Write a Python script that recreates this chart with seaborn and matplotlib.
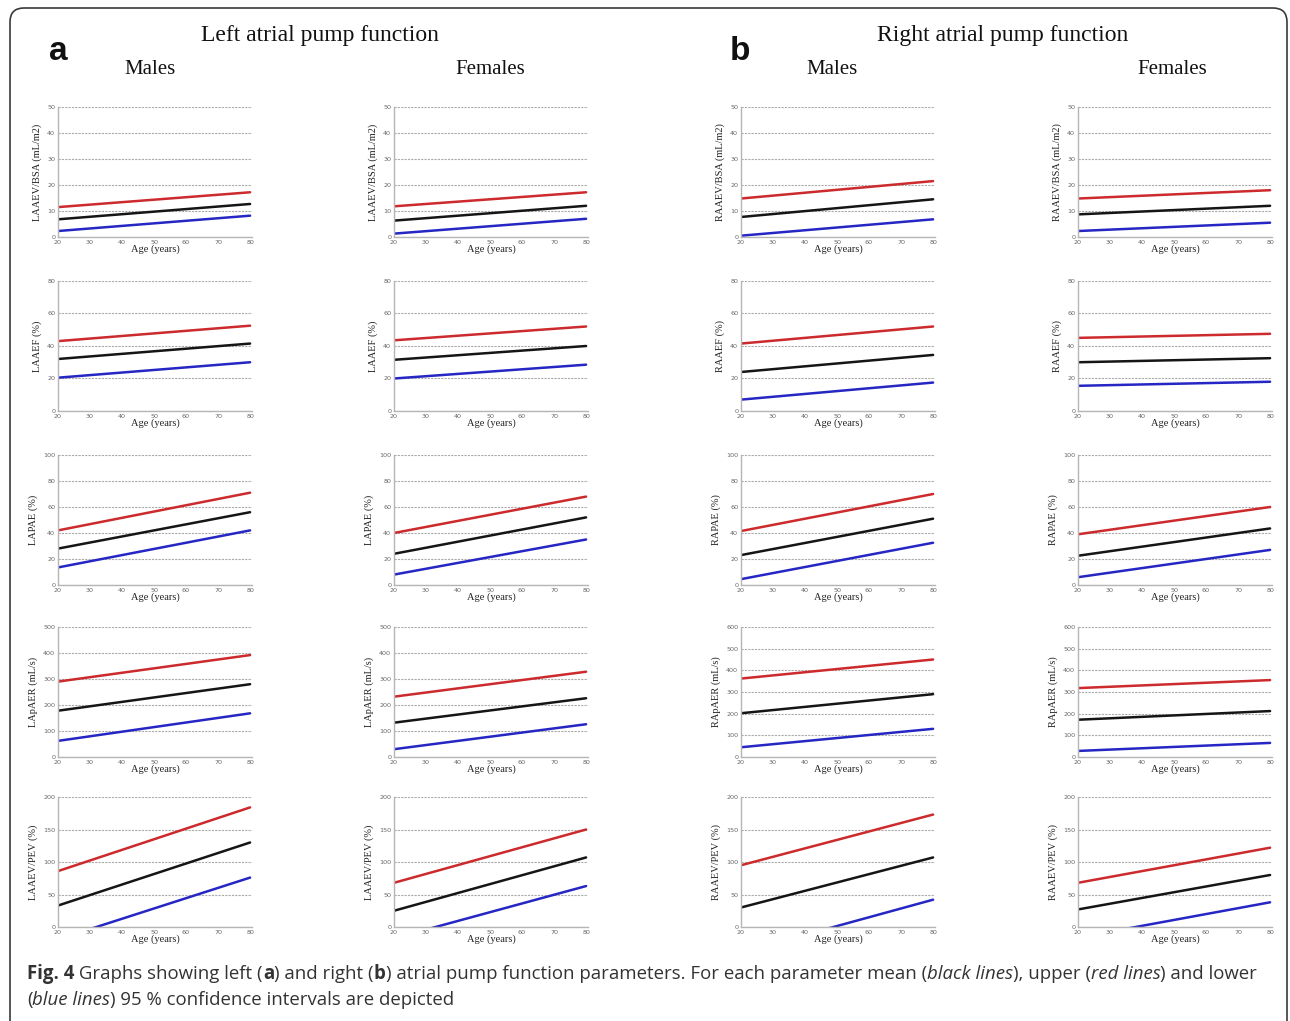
import matplotlib
matplotlib.use("Agg")
import matplotlib.pyplot as plt
import pandas as pd
import seaborn as sns
from matplotlib.font_manager import FontProperties
from matplotlib.patches import FancyBboxPatch

AGES = [20, 80]
BOUNDS = ["upper", "mean", "lower"]

LA_LABELS = ["LAAEV/BSA (mL/m2)", "LAAEF (%)", "LAPAE (%)", "LApAER (mL/s)", "LAAEV/PEV (%)"]
RA_LABELS = ["RAAEV/BSA (mL/m2)", "RAAEF (%)", "RAPAE (%)", "RApAER (mL/s)", "RAAEV/PEV (%)"]
LA_YMAX = [50, 80, 100, 500, 200]
RA_YMAX = [50, 80, 100, 600, 200]
Y_STEP = [10, 20, 20, 100, 50]

# (value at 20 years, value at 80 years) for each parameter row
LA_MALE_UPPER = [(11.5, 17.2), (43, 52.5), (42, 71), (290, 392), (86, 184)]
LA_MALE_MEAN = [(6.8, 12.7), (32, 41.5), (28, 56), (178, 280), (33, 130)]
LA_MALE_LOWER = [(2.3, 8.2), (20.5, 30), (13.5, 42), (62, 168), (-19, 76)]

LA_FEMALE_UPPER = [(11.8, 17.2), (43.5, 52), (40, 68), (232, 328), (68, 150)]
LA_FEMALE_MEAN = [(6.3, 12), (31.5, 40), (24, 52), (132, 226), (25, 107)]
LA_FEMALE_LOWER = [(1.3, 7), (20, 28.5), (8, 35), (30, 126), (-17.4, 63)]

RA_MALE_UPPER = [(14.8, 21.5), (41.5, 52), (41.5, 70), (362, 450), (95, 173)]
RA_MALE_MEAN = [(7.7, 14.5), (24, 34.5), (23, 51), (202, 290), (30, 107)]
RA_MALE_LOWER = [(0.5, 6.8), (7, 17.5), (4.5, 32.5), (45, 130), (-39, 42)]

RA_FEMALE_UPPER = [(14.8, 18), (45, 47.5), (39, 60), (318, 355), (68, 122)]
RA_FEMALE_MEAN = [(8.7, 12), (30, 32.5), (22.5, 43.5), (172, 212), (27, 80)]
RA_FEMALE_LOWER = [(2.3, 5.5), (15.5, 18), (6, 27), (28, 65), (-16.3, 38)]

PALETTE = {"upper": "#cc2a2c", "mean": "#151515", "lower": "#2626c4"}

W, H = 1290, 1021
COL_LEFT = [58, 394, 741, 1078]
AX_W = 194
ROW_TOP = [107, 281, 455, 627, 797]
AX_H = 130

SERIF = "Liberation Serif"

sns.set_theme(style="white")
plt.rcParams["font.family"] = ["Liberation Serif", "DejaVu Sans"]

fig = plt.figure(figsize=(W / 100, H / 100), dpi=100)

columns = [
    (LA_LABELS, LA_YMAX, LA_MALE_UPPER, LA_MALE_MEAN, LA_MALE_LOWER),
    (LA_LABELS, LA_YMAX, LA_FEMALE_UPPER, LA_FEMALE_MEAN, LA_FEMALE_LOWER),
    (RA_LABELS, RA_YMAX, RA_MALE_UPPER, RA_MALE_MEAN, RA_MALE_LOWER),
    (RA_LABELS, RA_YMAX, RA_FEMALE_UPPER, RA_FEMALE_MEAN, RA_FEMALE_LOWER),
]

for c, (labels, ymax, upper, mean, lower) in enumerate(columns):
    for r in range(5):
        left = COL_LEFT[c] / W
        bottom = 1 - (ROW_TOP[r] + AX_H) / H
        ax = fig.add_axes([left, bottom, AX_W / W, AX_H / H])
        rows = []
        for name, series in zip(BOUNDS, [upper, mean, lower]):
            for age, val in zip(AGES, series[r]):
                rows.append({"age": age, "value": val, "bound": name})
        df = pd.DataFrame(rows)
        sns.lineplot(data=df, x="age", y="value", hue="bound", palette=PALETTE,
                     linewidth=1.8, legend=False, ax=ax)
        ax.set_xlim(20, 80.6)
        ax.set_ylim(0, ymax[r])
        ax.set_xticks(range(20, 81, 10))
        ax.set_yticks(range(0, ymax[r] + 1, Y_STEP[r]))
        ax.yaxis.grid(True, color="#ababab", linestyle=(0, (2, 1)), linewidth=0.8)
        ax.xaxis.grid(False)
        for side in ["top", "right"]:
            ax.spines[side].set_visible(False)
        for side in ["left", "bottom"]:
            ax.spines[side].set_color("#b5b5b5")
            ax.spines[side].set_linewidth(1.0)
        ax.tick_params(axis="both", length=0, labelsize=4.6, labelcolor="#666666", pad=2)
        for lab in ax.get_xticklabels() + ax.get_yticklabels():
            lab.set_family("DejaVu Sans")
        ax.set_xlabel("Age (years)", fontsize=7.5, family=SERIF, color="#222222", labelpad=0)
        ax.set_ylabel(labels[r], fontsize=7.5, family=SERIF, color="#222222", labelpad=4)
        ax.set_facecolor("white")


def px(x, y):
    return x / W, 1 - y / H


# headers
for x, txt in [(320, "Left atrial pump function"), (1003, "Right atrial pump function")]:
    fig.text(*px(x, 35), txt, ha="center", va="center", fontsize=17, family=SERIF, color="#111111")
for x, txt in [(150, "Males"), (490, "Females"), (832, "Males"), (1172, "Females")]:
    fig.text(*px(x, 69), txt, ha="center", va="center", fontsize=15, family=SERIF, color="#111111")
for x, txt in [(58, "a"), (740, "b")]:
    fig.text(*px(x, 52), txt, ha="center", va="center", fontsize=24, weight="bold",
             family="Liberation Sans", color="#111111")

# caption with mixed styles
renderer = fig.canvas.get_renderer()
CAP_SIZE = 13.4


def piece_width(s, prop):
    w1, _, _ = renderer.get_text_width_height_descent("|" + s + "|", prop, ismath=False)
    w0, _, _ = renderer.get_text_width_height_descent("||", prop, ismath=False)
    return w1 - w0


def rich_line(x0, y0, pieces):
    x = x0
    for s, style in pieces:
        prop = FontProperties(family="Open Sans", size=CAP_SIZE,
                              weight="bold" if style == "b" else "normal",
                              style="italic" if style == "i" else "normal")
        fig.text(x / W, 1 - y0 / H, s, fontproperties=prop, color="#333333",
                 ha="left", va="center")
        x += piece_width(s, prop)


rich_line(27, 974, [
    ("Fig. 4", "b"), (" Graphs showing left (", "n"), ("a", "b"), (") and right (", "n"),
    ("b", "b"), (") atrial pump function parameters. For each parameter mean (", "n"),
    ("black lines", "i"), ("), upper (", "n"), ("red lines", "i"), (") and lower", "n"),
])
rich_line(27, 1000, [
    ("(", "n"), ("blue lines", "i"), (") 95 % confidence intervals are depicted", "n"),
])

# rounded frame
frame = FancyBboxPatch((0.10, -0.5), 12.77, 10.21 - 0.08 + 0.5,
                       boxstyle="round,pad=0,rounding_size=0.14",
                       transform=fig.dpi_scale_trans, fill=False,
                       edgecolor="#3a3a3a", linewidth=1.2)
fig.patches.append(frame)

fig.savefig("out.png", dpi=100, facecolor="white")
